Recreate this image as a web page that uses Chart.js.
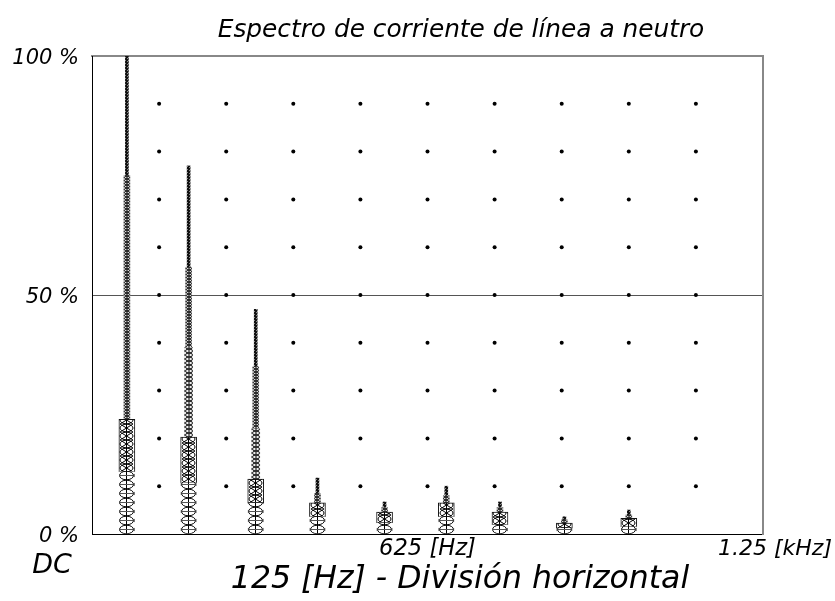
<!DOCTYPE html>
<html>
<head>
<meta charset="utf-8">
<script src="https://cdn.jsdelivr.net/npm/chart.js@4.4.1/dist/chart.umd.min.js"></script>
<style>
  body { margin: 0; background: #fff; }
  #wrap { width: 835px; height: 601px; }
</style>
</head>
<body>
<div id="wrap"><canvas id="spectrum"></canvas></div>
<script>
// harmonic spectrum (frequency in Hz, amplitude in %)
const freqs      = [65, 180, 305, 420, 545, 660, 760, 880, 1000];
const ringTop    = [13, 10.7, 6.5, 3.6, 2.3, 3.6, 1.9, 1.2, 1.5];   // wide ellipse stack
const boxTop     = [24, 20.3, 11.5, 6.5, 4.6, 6.5, 4.6, 2.3, 3.3];   // boxed band
const wideMidTop = [24, 39, 22, 6.5, 4.6, 6.5, 4.6, 2.3, 3.3];      // wider narrow stack
const midTop     = [75, 55.8, 35, 8.5, 5.5, 8, 5.5, 3, 4];           // narrow stack
const peak       = [100, 77, 47, 11.7, 6.7, 10, 6.7, 3.6, 5];        // thin tip

const yTicks = [0, 50, 100];
const yTickLabels = ['0 %', '50 %', '100 %'];
const gridX = [125, 250, 375, 500, 625, 750, 875, 1000, 1125];
const gridY = [10, 20, 30, 40, 50, 60, 70, 80, 90];

const titleText = 'Espectro de corriente de línea a neutro';
const xTitleText = '125 [Hz] - División horizontal';
const FONT = '"DejaVu Sans"';

// little tiles used to fill the spikes, like the stacked markers in the original
function makeTile(w, h, draw) {
  const cv = document.createElement('canvas');
  cv.width = w; cv.height = h;
  const g = cv.getContext('2d');
  draw(g, w, h);
  return cv;
}
const wideTile = makeTile(15, 9, (g, w, h) => {
  g.fillStyle = '#fff'; g.fillRect(0, 0, w, h);
  g.strokeStyle = '#000'; g.lineWidth = 1;
  g.beginPath(); g.ellipse(w / 2, h / 2, w / 2 - 0.5, h / 2 - 0.2, 0, 0, Math.PI * 2); g.stroke();
  g.beginPath(); g.moveTo(w / 2, 0); g.lineTo(w / 2, h); g.stroke();
  g.strokeStyle = '#555';
  g.beginPath(); g.moveTo(1, h / 2); g.lineTo(w - 1, h / 2); g.stroke();
});
const boxTile = makeTile(15, 8, (g, w, h) => {
  g.fillStyle = '#fff'; g.fillRect(0, 0, w, h);
  g.strokeStyle = '#000'; g.lineWidth = 1;
  g.beginPath(); g.ellipse(w / 2, h / 2, w / 2 - 1, h / 2 - 0.2, 0, 0, Math.PI * 2); g.stroke();
  g.beginPath(); g.moveTo(1, 0); g.lineTo(w - 1, h); g.moveTo(w - 1, 0); g.lineTo(1, h); g.stroke();
  g.beginPath(); g.moveTo(w / 2, 0); g.lineTo(w / 2, h); g.stroke();
});
const wideMidTile = makeTile(8, 4, (g, w, h) => {
  g.fillStyle = '#eee'; g.fillRect(0, 0, w, h);
  g.strokeStyle = '#000'; g.lineWidth = 1;
  g.beginPath(); g.ellipse(w / 2, h / 2, w / 2 - 0.5, h / 2, 0, 0, Math.PI * 2); g.stroke();
  g.beginPath(); g.moveTo(w / 2, 0); g.lineTo(w / 2, h); g.stroke();
});
const midTile = makeTile(6, 3, (g, w, h) => {
  g.fillStyle = '#ddd'; g.fillRect(0, 0, w, h);
  g.strokeStyle = '#000'; g.lineWidth = 1;
  g.beginPath(); g.ellipse(w / 2, h / 2, w / 2 - 0.5, h / 2, 0, 0, Math.PI * 2); g.stroke();
  g.beginPath(); g.moveTo(w / 2, 0); g.lineTo(w / 2, h); g.stroke();
});
const tipTile = makeTile(3, 3, (g, w, h) => {
  g.fillStyle = '#111'; g.fillRect(0, 0, w, h);
  g.fillStyle = '#888'; g.fillRect(0, 1, 1, 1); g.fillRect(2, 2, 1, 1);
});

// pattern lined up with each bar so the markers sit centred on the spike
function patternFill(tile) {
  return (c) => {
    const chart = c.chart;
    if (!c.raw || !chart.scales || !chart.scales.x) return '#444';
    const pat = chart.ctx.createPattern(tile, 'repeat');
    const px = chart.scales.x.getPixelForValue(c.raw.x);
    const py = chart.scales.y.getPixelForValue(c.raw.y[0]);
    pat.setTransform(new DOMMatrix().translate(Math.round(px - tile.width / 2), Math.round(py)));
    return pat;
  };
}

function layer(lo, hi, thick, tile, border) {
  return {
    type: 'bar',
    data: freqs.map((f, i) => ({ x: f, y: [lo[i], hi[i]] })),
    barThickness: thick,
    grouped: false,
    backgroundColor: patternFill(tile),
    borderColor: '#111',
    borderWidth: border,
    borderSkipped: false
  };
}

const zeros = freqs.map(() => 0);
const gridDots = [];
gridX.forEach(x => gridY.forEach(y => gridDots.push({ x: x, y: y })));

// set the font so the text spans the same width as in the original
function fitFont(ctx, text, width) {
  ctx.font = 'italic 20px ' + FONT;
  const size = 20 * width / ctx.measureText(text).width;
  ctx.font = 'italic ' + size.toFixed(1) + 'px ' + FONT;
}

const textPlugin = {
  id: 'texts',
  afterDraw(chart) {
    const { ctx } = chart;
    const x = chart.scales.x;
    ctx.save();
    ctx.fillStyle = '#000';
    ctx.textBaseline = 'middle';
    ctx.textAlign = 'center';
    fitFont(ctx, titleText, 487);
    ctx.fillText(titleText, 461, 31);
    fitFont(ctx, '625 [Hz]', 97);
    ctx.fillText('625 [Hz]', x.getPixelForValue(625), 549);
    fitFont(ctx, '1.25 [kHz]', 114);
    ctx.textAlign = 'right';
    ctx.fillText('1.25 [kHz]', 832, 549);
    ctx.textAlign = 'center';
    ctx.font = 'italic 27px ' + FONT;
    ctx.fillText('DC', 52, 566);
    fitFont(ctx, xTitleText, 458);
    ctx.fillText(xTitleText, 460, 580);
    ctx.restore();
  }
};

new Chart(document.getElementById('spectrum'), {
  type: 'bar',
  data: {
    datasets: [
      {
        type: 'scatter',
        data: gridDots,
        pointRadius: 2,
        pointBackgroundColor: '#000',
        pointBorderWidth: 0,
        xAxisID: 'x',
        yAxisID: 'y'
      },
      layer(zeros, ringTop, 15, wideTile, 0),
      layer(ringTop, boxTop, 16, boxTile, 1),
      layer(boxTop, wideMidTop, 8, wideMidTile, 0),
      layer(wideMidTop, midTop, 6, midTile, 0),
      layer(midTop, peak, 3, tipTile, 0)
    ]
  },
  options: {
    responsive: true,
    maintainAspectRatio: false,
    animation: false,
    events: [],
    layout: { padding: 0 },
    plugins: {
      legend: { display: false },
      title: { display: false },
      tooltip: { enabled: false }
    },
    scales: {
      x: {
        type: 'linear', position: 'bottom', min: 0, max: 1250, offset: false,
        grid: { display: false },
        border: { color: '#000', width: 1 },
        ticks: { display: false },
        afterFit: (s) => { s.height = 67; }
      },
      x2: {
        type: 'linear', position: 'top', min: 0, max: 1250,
        grid: { display: false },
        border: { color: '#888', width: 2 },
        ticks: { display: false },
        afterFit: (s) => { s.height = 56; }
      },
      y: {
        type: 'linear', position: 'left', min: 0, max: 100,
        afterBuildTicks: (s) => { s.ticks = yTicks.map(v => ({ value: v })); },
        grid: {
          drawTicks: false,
          color: (c) => (c.tick && c.tick.value === 50 ? '#555' : 'rgba(0,0,0,0)'),
          lineWidth: 1
        },
        border: { color: '#000', width: 1 },
        ticks: {
          padding: 13,
          labelOffset: 3,
          color: '#000',
          font: { family: FONT, size: 21, style: 'italic' },
          callback: (v) => yTickLabels[yTicks.indexOf(v)]
        },
        afterFit: (s) => { s.width = 92; }
      },
      y2: {
        type: 'linear', position: 'right', min: 0, max: 100,
        grid: { display: false },
        border: { color: '#888', width: 2 },
        ticks: { display: false },
        afterFit: (s) => { s.width = 72; }
      }
    }
  },
  plugins: [textPlugin]
});
</script>
</body>
</html>
